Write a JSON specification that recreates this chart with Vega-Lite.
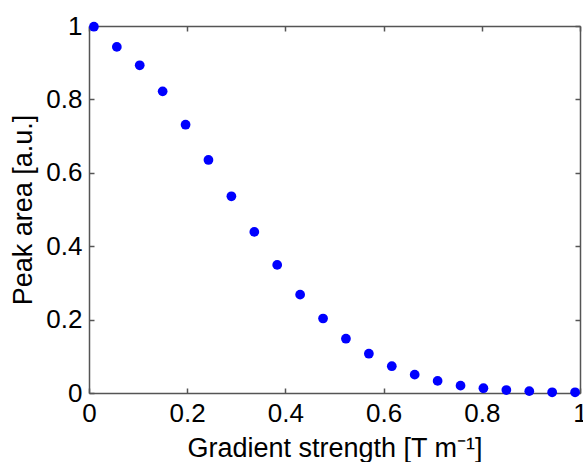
{
  "$schema": "https://vega.github.io/schema/vega-lite/v6.json",
  "width": 491,
  "height": 367,
  "autosize": "none",
  "padding": {"left": 89, "top": 26, "right": 3, "bottom": 69},
  "background": "white",
  "config": {
    "view": {"stroke": null},
    "font": "Liberation Sans",
    "axis": {
      "grid": false,
      "domainColor": "#555555",
      "domainWidth": 1.5,
      "tickColor": "#555555",
      "tickWidth": 1.5,
      "tickSize": -5,
      "labelFont": "Liberation Sans",
      "labelFontSize": 26,
      "labelColor": "#000000",
      "titleFont": "Liberation Sans",
      "titleFontSize": 27,
      "titleFontWeight": "normal",
      "titleColor": "#000000"
    }
  },
  "data": {
    "values": [
      {"g": 0.01, "area": 0.998},
      {"g": 0.0567, "area": 0.943},
      {"g": 0.1033, "area": 0.893},
      {"g": 0.15, "area": 0.822},
      {"g": 0.1967, "area": 0.731},
      {"g": 0.2433, "area": 0.635},
      {"g": 0.29, "area": 0.536},
      {"g": 0.3367, "area": 0.439},
      {"g": 0.3833, "area": 0.349},
      {"g": 0.43, "area": 0.268},
      {"g": 0.4767, "area": 0.203},
      {"g": 0.5233, "area": 0.148},
      {"g": 0.57, "area": 0.107},
      {"g": 0.6167, "area": 0.073},
      {"g": 0.6633, "area": 0.05},
      {"g": 0.71, "area": 0.033},
      {"g": 0.7567, "area": 0.02},
      {"g": 0.8033, "area": 0.013},
      {"g": 0.85, "area": 0.008},
      {"g": 0.8967, "area": 0.005},
      {"g": 0.9433, "area": 0.002},
      {"g": 0.99, "area": 0.002}
    ]
  },
  "layer": [
    {
      "mark": {"type": "point", "filled": true, "shape": "circle", "size": 95, "color": "#0000ff", "opacity": 1},
      "encoding": {
        "x": {
          "field": "g", "type": "quantitative",
          "scale": {"domain": [0, 1], "nice": false, "zero": false},
          "axis": {"orient": "bottom", "values": [0, 0.2, 0.4, 0.6, 0.8, 1], "format": "~g", "title": "Gradient strength [T m⁻¹]", "labelPadding": 12, "titlePadding": 9, "labelFlush": false, "labelOverlap": false}
        },
        "y": {
          "field": "area", "type": "quantitative",
          "scale": {"domain": [0, 1], "nice": false, "zero": false},
          "axis": {"orient": "left", "values": [0, 0.2, 0.4, 0.6, 0.8, 1], "format": "~g", "title": "Peak area [a.u.]", "labelPadding": 12, "titlePadding": 8, "labelFlush": false, "labelOverlap": false}
        }
      }
    },
    {
      "mark": {"type": "point", "filled": true, "shape": "circle", "size": 95, "color": "#0000ff", "opacity": 0},
      "encoding": {
        "x": {
          "field": "g", "type": "quantitative",
          "scale": {"domain": [0, 1], "nice": false, "zero": false},
          "axis": {"orient": "top", "values": [0, 0.2, 0.4, 0.6, 0.8, 1], "labels": false, "title": null}
        },
        "y": {
          "field": "area", "type": "quantitative",
          "scale": {"domain": [0, 1], "nice": false, "zero": false},
          "axis": {"orient": "right", "values": [0, 0.2, 0.4, 0.6, 0.8, 1], "labels": false, "title": null}
        }
      }
    }
  ],
  "resolve": {"axis": {"x": "independent", "y": "independent"}}
}
